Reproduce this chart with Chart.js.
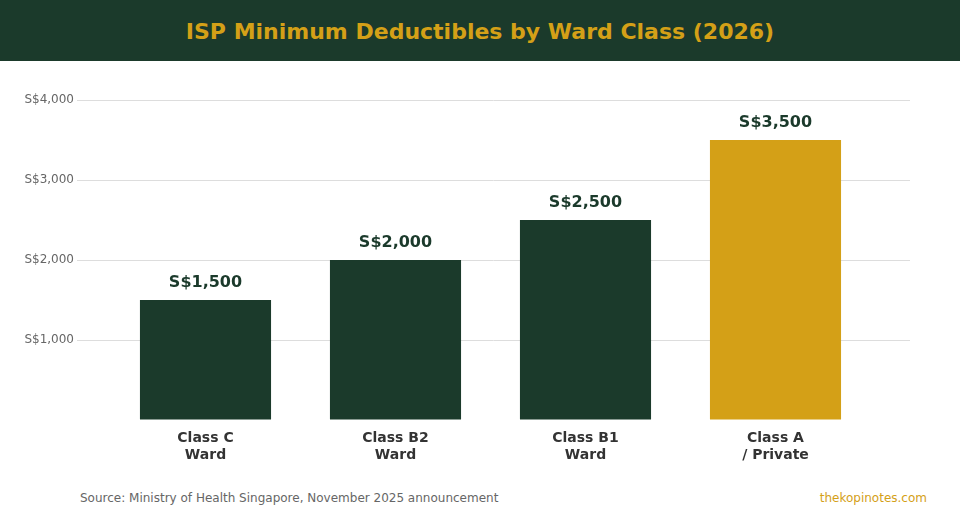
<!DOCTYPE html>
<html>
<head>
<meta charset="utf-8">
<script src="https://cdn.jsdelivr.net/npm/chart.js@4/dist/chart.umd.min.js"></script>
<style>
  body { margin: 0; width: 960px; height: 520px; background: #fff; font-family: "DejaVu Sans", sans-serif; position: relative; overflow: hidden; }
  #header { height: 61px; background: #1b3a2b; color: #d4a017; font-weight: bold; font-size: 22px; text-align: center; line-height: 63px; }
  #wrap { position: absolute; left: 0; top: 61px; width: 960px; height: 420px; }
  .foot { position: absolute; top: 491px; font-size: 12px; }
  #source { left: 80px; color: #666; }
  #brand { right: 33px; color: #d4a017; }
</style>
</head>
<body>
<div id="header">ISP Minimum Deductibles by Ward Class (2026)</div>
<div id="wrap"><canvas id="chart"></canvas></div>
<div class="foot" id="source">Source: Ministry of Health Singapore, November 2025 announcement</div>
<div class="foot" id="brand">thekopinotes.com</div>
<script>
// data
const wardLabels = [["Class C", "Ward"], ["Class B2", "Ward"], ["Class B1", "Ward"], ["Class A", "/ Private"]];
const deductibles = [1500, 2000, 2500, 3500];
const barColors = ["#1b3a2b", "#1b3a2b", "#1b3a2b", "#d4a017"];
const yTicks = [1000, 2000, 3000, 4000];

function money(v) {
  return "S$" + v.toLocaleString("en-US");
}

// value labels above each bar
const valueLabels = {
  id: "valueLabels",
  afterDatasetsDraw(chart) {
    const ctx = chart.ctx;
    const meta = chart.getDatasetMeta(0);
    ctx.save();
    ctx.font = "bold 16px 'DejaVu Sans'";
    ctx.fillStyle = "#1b3a2b";
    ctx.textAlign = "center";
    ctx.textBaseline = "alphabetic";
    meta.data.forEach((bar, i) => {
      ctx.fillText(money(deductibles[i]), bar.x, bar.y - 13);
    });
    ctx.restore();
  }
};

let ctx = document.getElementById("chart").getContext("2d");
let myChart = new Chart(ctx, {
  type: "bar",
  data: {
    datasets: [
      {
        data: deductibles.map((v, i) => ({ x: i, y: v })),
        backgroundColor: barColors,
        borderWidth: 0,
        barPercentage: 0.69,
        categoryPercentage: 1,
      },
    ],
  },
  options: {
    responsive: true,
    maintainAspectRatio: false,
    animation: false,
    layout: { padding: { left: 0, right: 50, top: 39, bottom: 0 } },
    plugins: { legend: { display: false }, tooltip: { enabled: false } },
    scales: {
      x: {
        type: "linear",
        offset: false,
        min: -0.6763,
        max: 3.7079,
        grid: { display: false, offset: false },
        border: { display: false },
        afterBuildTicks: (scale) => {
          scale.ticks = wardLabels.map((l, i) => ({ value: i }));
        },
        afterFit: (scale) => { scale.height = 61; },
        ticks: {
          autoSkip: false,
          maxRotation: 0,
          padding: 2,
          color: "#333",
          font: { family: "DejaVu Sans", size: 14, weight: "bold", lineHeight: 1.2 },
          callback: (v) => wardLabels[v],
        },
      },
      y: {
        min: 0,
        max: 4000,
        afterBuildTicks: (scale) => {
          scale.ticks = [0].concat(yTicks).map((v) => ({ value: v }));
        },
        afterFit: (scale) => { scale.width = 77; },
        grid: {
          color: (c) => (c.tick && c.tick.value === 0 ? "rgba(0,0,0,0)" : "#dddddd"),
          drawTicks: false,
          lineWidth: 1,
        },
        border: { display: false },
        ticks: {
          padding: 3,
          color: "#666",
          font: { family: "DejaVu Sans", size: 12 },
          callback: (v) => (v === 0 ? "" : money(v)),
        },
      },
    },
  },
  plugins: [valueLabels],
});
</script>
</body>
</html>
